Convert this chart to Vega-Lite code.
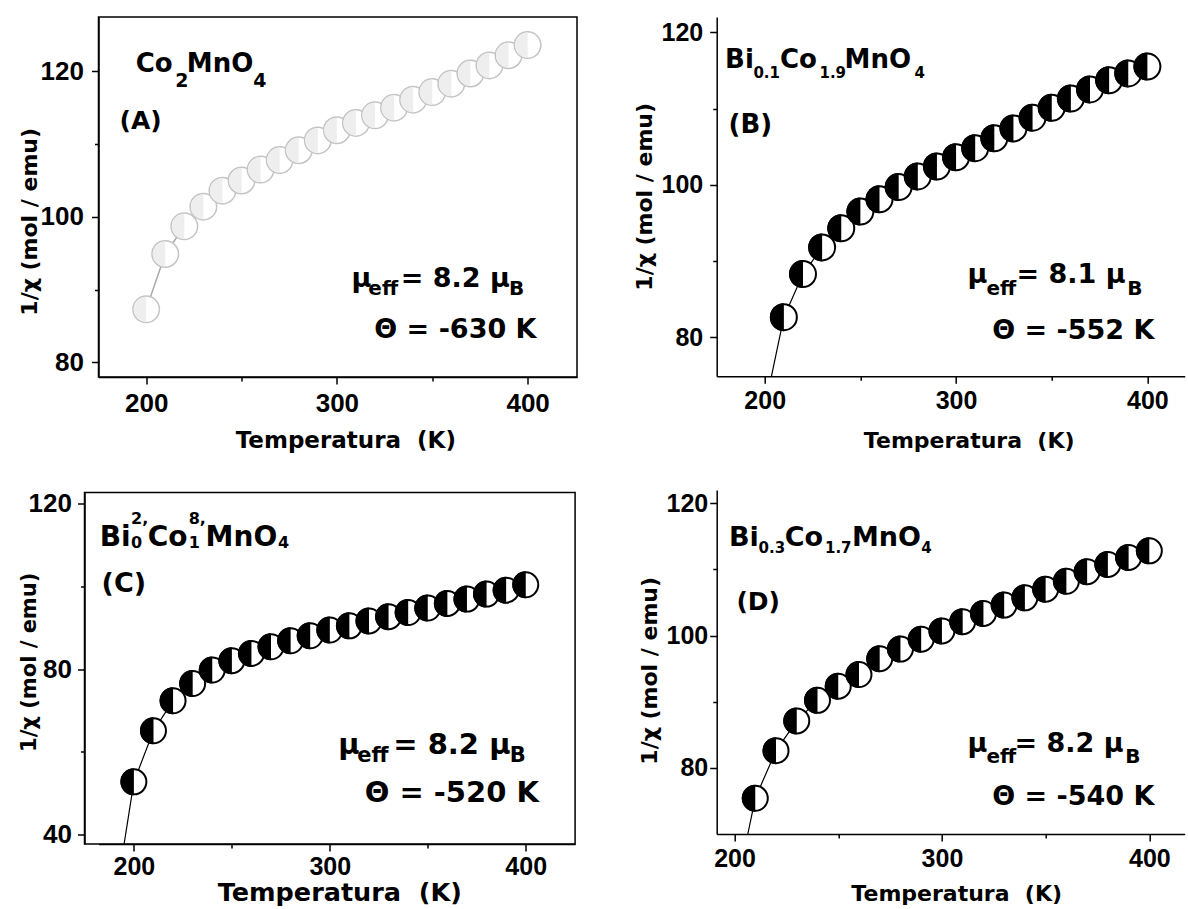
{
  "$schema": "https://vega.github.io/schema/vega-lite/v6.json",
  "background": "white",
  "padding": {"left": 16.5, "top": 16, "right": 0, "bottom": 0},
  "config": {
    "view": {"stroke": null},
    "axis": {"grid": false, "domainColor": "#000", "domainWidth": 1.5, "tickColor": "#000", "tickWidth": 1.5, "labelColor": "#000", "titleColor": "#000", "labelFontWeight": "bold", "titleFontWeight": "bold", "labelFlush": false, "labelOverlap": false, "titleFont": "DejaVu Sans", "labelFont": "Liberation Sans", "titleBaseline": "alphabetic"},
    "text": {"font": "DejaVu Sans", "fontWeight": "bold", "align": "left", "baseline": "alphabetic", "color": "black"}
  },
  "datasets": {
    "A": [
      {"T": 200, "v": 87.3, "k": "pt"}, {"T": 210, "v": 94.9, "k": "pt"}, {"T": 220, "v": 98.7, "k": "pt"}, {"T": 230, "v": 101.4, "k": "pt"}, {"T": 240, "v": 103.6, "k": "pt"}, {"T": 250, "v": 105.0, "k": "pt"}, {"T": 260, "v": 106.5, "k": "pt"}, {"T": 270, "v": 107.8, "k": "pt"}, {"T": 280, "v": 109.15, "k": "pt"}, {"T": 290, "v": 110.5, "k": "pt"}, {"T": 300, "v": 111.9, "k": "pt"}, {"T": 310, "v": 112.9, "k": "pt"}, {"T": 320, "v": 113.95, "k": "pt"}, {"T": 330, "v": 115.0, "k": "pt"}, {"T": 340, "v": 116.1, "k": "pt"}, {"T": 350, "v": 117.15, "k": "pt"}, {"T": 360, "v": 118.3, "k": "pt"}, {"T": 370, "v": 119.7, "k": "pt"}, {"T": 380, "v": 120.8, "k": "pt"}, {"T": 390, "v": 122.2, "k": "pt"}, {"T": 400, "v": 123.6, "k": "pt"}
    ],
    "B": [
      {"T": 203.5, "v": 74.9, "k": "axis"},
      {"T": 210, "v": 82.65, "k": "pt"}, {"T": 220, "v": 88.3, "k": "pt"}, {"T": 230, "v": 91.8, "k": "pt"}, {"T": 240, "v": 94.3, "k": "pt"}, {"T": 250, "v": 96.5, "k": "pt"}, {"T": 260, "v": 98.1, "k": "pt"}, {"T": 270, "v": 99.7, "k": "pt"}, {"T": 280, "v": 101.1, "k": "pt"}, {"T": 290, "v": 102.4, "k": "pt"}, {"T": 300, "v": 103.6, "k": "pt"}, {"T": 310, "v": 104.8, "k": "pt"}, {"T": 320, "v": 106.1, "k": "pt"}, {"T": 330, "v": 107.4, "k": "pt"}, {"T": 340, "v": 108.8, "k": "pt"}, {"T": 350, "v": 110.1, "k": "pt"}, {"T": 360, "v": 111.3, "k": "pt"}, {"T": 370, "v": 112.5, "k": "pt"}, {"T": 380, "v": 113.7, "k": "pt"}, {"T": 390, "v": 114.6, "k": "pt"}, {"T": 400, "v": 115.5, "k": "pt"}
    ],
    "C": [
      {"T": 195.0, "v": 37.8, "k": "axis"},
      {"T": 200, "v": 52.8, "k": "pt"}, {"T": 210, "v": 65.1, "k": "pt"}, {"T": 220, "v": 72.35, "k": "pt"}, {"T": 230, "v": 76.5, "k": "pt"}, {"T": 240, "v": 79.75, "k": "pt"}, {"T": 250, "v": 82.0, "k": "pt"}, {"T": 260, "v": 83.75, "k": "pt"}, {"T": 270, "v": 85.36, "k": "pt"}, {"T": 280, "v": 86.8, "k": "pt"}, {"T": 290, "v": 88.0, "k": "pt"}, {"T": 300, "v": 89.4, "k": "pt"}, {"T": 310, "v": 90.4, "k": "pt"}, {"T": 320, "v": 91.6, "k": "pt"}, {"T": 330, "v": 92.6, "k": "pt"}, {"T": 340, "v": 93.6, "k": "pt"}, {"T": 350, "v": 94.7, "k": "pt"}, {"T": 360, "v": 95.8, "k": "pt"}, {"T": 370, "v": 96.85, "k": "pt"}, {"T": 380, "v": 98.05, "k": "pt"}, {"T": 390, "v": 99.0, "k": "pt"}, {"T": 400, "v": 100.3, "k": "pt"}
    ],
    "D": [
      {"T": 206.4, "v": 70.0, "k": "axis"},
      {"T": 210, "v": 75.4, "k": "pt"}, {"T": 220, "v": 82.6, "k": "pt"}, {"T": 230, "v": 87.1, "k": "pt"}, {"T": 240, "v": 90.2, "k": "pt"}, {"T": 250, "v": 92.35, "k": "pt"}, {"T": 260, "v": 94.1, "k": "pt"}, {"T": 270, "v": 96.5, "k": "pt"}, {"T": 280, "v": 97.95, "k": "pt"}, {"T": 290, "v": 99.45, "k": "pt"}, {"T": 300, "v": 100.7, "k": "pt"}, {"T": 310, "v": 102.1, "k": "pt"}, {"T": 320, "v": 103.35, "k": "pt"}, {"T": 330, "v": 104.6, "k": "pt"}, {"T": 340, "v": 105.7, "k": "pt"}, {"T": 350, "v": 107.0, "k": "pt"}, {"T": 360, "v": 108.2, "k": "pt"}, {"T": 370, "v": 109.65, "k": "pt"}, {"T": 380, "v": 110.75, "k": "pt"}, {"T": 390, "v": 111.8, "k": "pt"}, {"T": 400, "v": 112.8, "k": "pt"}
    ],
    "At": [
      {"T": 194.5, "v": 119.9, "s": "Co", "k": "f"},
      {"T": 215.3, "v": 117.8, "s": "2", "k": "fs"},
      {"T": 221.3, "v": 119.9, "s": "MnO", "k": "f"},
      {"T": 256.2, "v": 117.8, "s": "4", "k": "fs"},
      {"T": 186.0, "v": 112.1, "s": "(A)", "k": "p"},
      {"T": 307.6, "v": 90.4, "s": "μ", "k": "m"},
      {"T": 316.5, "v": 89.2, "s": "eff", "k": "ms"},
      {"T": 333.5, "v": 90.4, "s": "= 8.2 μ", "k": "m"},
      {"T": 390.3, "v": 89.2, "s": "B", "k": "ms"},
      {"T": 319.6, "v": 83.3, "s": "Θ = -630 K", "k": "m"}
    ],
    "Bt": [
      {"T": 179.3, "v": 115.25, "s": "Bi", "k": "f"},
      {"T": 194.1, "v": 113.94, "s": "0.1", "k": "fs"},
      {"T": 208.0, "v": 115.25, "s": "Co", "k": "f"},
      {"T": 228.6, "v": 113.94, "s": "1.9", "k": "fs"},
      {"T": 241.7, "v": 115.25, "s": "MnO", "k": "f"},
      {"T": 278.3, "v": 113.94, "s": "4", "k": "fs"},
      {"T": 181.1, "v": 106.78, "s": "(B)", "k": "p"},
      {"T": 306.0, "v": 87.1, "s": "μ", "k": "m"},
      {"T": 315.9, "v": 85.57, "s": "eff", "k": "ms"},
      {"T": 331.6, "v": 87.1, "s": "= 8.1 μ", "k": "m"},
      {"T": 389.5, "v": 85.57, "s": "B", "k": "ms"},
      {"T": 318.9, "v": 79.78, "s": "Θ = -552 K", "k": "m"}
    ],
    "Ct": [
      {"T": 182.56, "v": 109.7, "s": "Bi", "k": "f"},
      {"T": 198.58, "v": 115.0, "s": "2,", "k": "fs"},
      {"T": 198.58, "v": 109.22, "s": "0", "k": "fs"},
      {"T": 207.1, "v": 109.7, "s": "Co", "k": "f"},
      {"T": 228.0, "v": 115.0, "s": "8,", "k": "fs"},
      {"T": 228.0, "v": 109.22, "s": "1", "k": "fs"},
      {"T": 236.6, "v": 109.7, "s": "MnO", "k": "f"},
      {"T": 273.6, "v": 109.22, "s": "4", "k": "fs"},
      {"T": 183.5, "v": 98.45, "s": "(C)", "k": "p"},
      {"T": 304.3, "v": 59.5, "s": "μ", "k": "m"},
      {"T": 314.0, "v": 57.48, "s": "eff", "k": "ms"},
      {"T": 332.4, "v": 59.5, "s": "= 8.2 μ", "k": "m"},
      {"T": 391.8, "v": 57.48, "s": "B", "k": "ms"},
      {"T": 317.8, "v": 47.84, "s": "Θ = -520 K", "k": "m"}
    ],
    "Dt": [
      {"T": 197.3, "v": 113.59, "s": "Bi", "k": "f"},
      {"T": 211.6, "v": 112.42, "s": "0.3", "k": "fs"},
      {"T": 224.2, "v": 113.59, "s": "Co", "k": "f"},
      {"T": 243.6, "v": 112.42, "s": "1.7", "k": "fs"},
      {"T": 256.6, "v": 113.59, "s": "MnO", "k": "f"},
      {"T": 290.0, "v": 112.42, "s": "4", "k": "fs"},
      {"T": 200.9, "v": 103.85, "s": "(D)", "k": "p"},
      {"T": 312.3, "v": 82.42, "s": "μ", "k": "m"},
      {"T": 321.5, "v": 80.8, "s": "eff", "k": "ms"},
      {"T": 335.0, "v": 82.42, "s": "= 8.2 μ", "k": "m"},
      {"T": 388.4, "v": 80.8, "s": "B", "k": "ms"},
      {"T": 324.2, "v": 74.34, "s": "Θ = -540 K", "k": "m"}
    ],
    "frame": [{"x1": 181.94, "x2": 425.2, "y1": 37.8, "y2": 122.54}]
  },
  "spacing": 55.2,
  "hconcat": [
    {
      "spacing": 36.5,
      "vconcat": [
        {
          "width": 478.5, "height": 360,
          "view": {"stroke": "black", "strokeWidth": 1.5},
          "data": {"name": "A"},
          "encoding": {
            "x": {"field": "T", "type": "quantitative", "scale": {"domain": [175, 425.9], "nice": false, "zero": false},
              "axis": {"values": [200, 250, 300, 350, 400], "labelExpr": "datum.value % 100 === 0 ? datum.label : ''", "tickSize": {"condition": {"test": "datum.value % 100 === 0", "value": 7}, "value": 4}, "labelFontSize": 26, "labelPadding": 6, "title": "Temperatura \u00a0(K)", "titleFontSize": 23, "titleX": 246.8, "titleY": 70}},
            "y": {"field": "v", "type": "quantitative", "scale": {"domain": [78, 127.46], "nice": false, "zero": false},
              "axis": {"values": [80, 90, 100, 110, 120], "labelExpr": "datum.value % 20 === 0 ? datum.label : ''", "tickSize": {"condition": {"test": "datum.value % 20 === 0", "value": 7}, "value": 4}, "labelFontSize": 26, "labelPadding": 8, "title": "1/χ (mol / emu)", "titleFontSize": 22, "titleX": -62.5, "titleY": 204.3}}
          },
          "layer": [
            {"mark": {"type": "line", "color": "#aaaaaa", "strokeWidth": 1.5, "clip": true}},
            {"transform": [{"filter": "datum.k !== 'axis'"}], "mark": {"type": "point", "shape": "circle", "filled": true, "fill": "white", "stroke": "#c4c4c4", "strokeWidth": 1.5, "size": 702, "opacity": 1}},
            {"transform": [{"filter": "datum.k !== 'axis'"}], "mark": {"type": "point", "shape": "M0,-1A1,1,0,0,0,0,1Z", "filled": true, "fill": "#eeeeee", "strokeWidth": 0, "size": 625, "opacity": 1}},
            {"data": {"name": "At"}, "transform": [{"filter": "datum.k === 'f'"}], "mark": {"type": "text", "fontSize": 26}, "encoding": {"text": {"field": "s"}}},
            {"data": {"name": "At"}, "transform": [{"filter": "datum.k === 'fs'"}], "mark": {"type": "text", "fontSize": 19}, "encoding": {"text": {"field": "s"}}},
            {"data": {"name": "At"}, "transform": [{"filter": "datum.k === 'p'"}], "mark": {"type": "text", "fontSize": 25}, "encoding": {"text": {"field": "s"}}},
            {"data": {"name": "At"}, "transform": [{"filter": "datum.k === 'm'"}], "mark": {"type": "text", "fontSize": 27}, "encoding": {"text": {"field": "s"}}},
            {"data": {"name": "At"}, "transform": [{"filter": "datum.k === 'ms'"}], "mark": {"type": "text", "fontSize": 20}, "encoding": {"text": {"field": "s"}}}
          ]
        },
        {
          "width": 476.6, "height": 351.6,
          "data": {"name": "C"},
          "encoding": {
            "x": {"field": "T", "type": "quantitative", "scale": {"domain": [181.94, 425.2], "nice": false, "zero": false},
              "axis": {"values": [200, 250, 300, 350, 400], "labelExpr": "datum.value % 100 === 0 ? datum.label : ''", "tickSize": {"condition": {"test": "datum.value % 100 === 0", "value": 7}, "value": 4}, "labelFontSize": 25, "labelPadding": 3.5, "title": "Temperatura \u00a0(K)", "titleFontSize": 25.5, "titleX": 240.8, "titleY": 56.5}},
            "y": {"field": "v", "type": "quantitative", "scale": {"domain": [37.8, 122.54], "nice": false, "zero": false},
              "axis": {"offset": 14, "values": [40, 60, 80, 100, 120], "labelExpr": "datum.value % 40 === 0 ? datum.label : ''", "tickSize": {"condition": {"test": "datum.value % 40 === 0", "value": 7}, "value": 4}, "labelFontSize": 26, "labelPadding": 6, "title": "1/χ (mol / emu)", "titleFontSize": 21, "titleX": -49, "titleY": 169.3}}
          },
          "layer": [
            {"data": {"name": "frame"}, "mark": {"type": "rect", "fill": "white", "fillOpacity": 0, "stroke": "black", "strokeWidth": 1.5, "xOffset": -14, "x2Offset": 0},
              "encoding": {"x": {"field": "x1", "type": "quantitative"}, "x2": {"field": "x2"}, "y": {"field": "y1", "type": "quantitative"}, "y2": {"field": "y2"}}},
            {"mark": {"type": "line", "color": "black", "strokeWidth": 1.2, "clip": true}},
            {"transform": [{"filter": "datum.k !== 'axis'"}], "mark": {"type": "point", "shape": "circle", "filled": true, "fill": "white", "stroke": "black", "strokeWidth": 2, "size": 625, "opacity": 1}},
            {"transform": [{"filter": "datum.k !== 'axis'"}], "mark": {"type": "point", "shape": "M0,-1A1,1,0,0,0,0,1Z", "filled": true, "fill": "black", "strokeWidth": 0, "size": 729, "opacity": 1}},
            {"data": {"name": "Ct"}, "transform": [{"filter": "datum.k === 'f'"}], "mark": {"type": "text", "fontSize": 28}, "encoding": {"text": {"field": "s"}}},
            {"data": {"name": "Ct"}, "transform": [{"filter": "datum.k === 'fs'"}], "mark": {"type": "text", "fontSize": 16}, "encoding": {"text": {"field": "s"}}},
            {"data": {"name": "Ct"}, "transform": [{"filter": "datum.k === 'p'"}], "mark": {"type": "text", "fontSize": 27}, "encoding": {"text": {"field": "s"}}},
            {"data": {"name": "Ct"}, "transform": [{"filter": "datum.k === 'm'"}], "mark": {"type": "text", "fontSize": 29}, "encoding": {"text": {"field": "s"}}},
            {"data": {"name": "Ct"}, "transform": [{"filter": "datum.k === 'ms'"}], "mark": {"type": "text", "fontSize": 21}, "encoding": {"text": {"field": "s"}}}
          ]
        }
      ]
    },
    {
      "spacing": 39,
      "vconcat": [
        {
          "width": 468, "height": 359.3,
          "data": {"name": "B"},
          "encoding": {
            "x": {"field": "T", "type": "quantitative", "scale": {"domain": [174.9, 419.5], "nice": false, "zero": false},
              "axis": {"values": [200, 250, 300, 350, 400], "labelExpr": "datum.value % 100 === 0 ? datum.label : ''", "tickSize": {"condition": {"test": "datum.value % 100 === 0", "value": 7}, "value": 4}, "labelFontSize": 25, "labelPadding": 5, "title": "Temperatura \u00a0(K)", "titleFontSize": 22, "titleX": 252, "titleY": 70.7}},
            "y": {"field": "v", "type": "quantitative", "scale": {"domain": [74.9, 122], "nice": false, "zero": false},
              "axis": {"values": [80, 90, 100, 110, 120], "labelExpr": "datum.value % 20 === 0 ? datum.label : ''", "tickSize": {"condition": {"test": "datum.value % 20 === 0", "value": 7}, "value": 4}, "labelFontSize": 25, "labelPadding": 7, "title": "1/χ (mol / emu)", "titleFontSize": 22, "titleX": -65, "titleY": 179.3}}
          },
          "layer": [
            {"data": {"values": [{}]}, "mark": {"type": "rule", "color": "black", "strokeWidth": 1.5}, "encoding": {"x": {"datum": 174.9}, "x2": {"datum": 419.5}, "y": {"datum": 122}}},
            {"mark": {"type": "line", "color": "black", "strokeWidth": 1.2, "clip": true}},
            {"transform": [{"filter": "datum.k !== 'axis'"}], "mark": {"type": "point", "shape": "circle", "filled": true, "fill": "white", "stroke": "black", "strokeWidth": 2, "size": 676, "opacity": 1}},
            {"transform": [{"filter": "datum.k !== 'axis'"}], "mark": {"type": "point", "shape": "M0,-1A1,1,0,0,0,0,1Z", "filled": true, "fill": "black", "strokeWidth": 0, "size": 784, "opacity": 1}},
            {"data": {"name": "Bt"}, "transform": [{"filter": "datum.k === 'f'"}], "mark": {"type": "text", "fontSize": 26}, "encoding": {"text": {"field": "s"}}},
            {"data": {"name": "Bt"}, "transform": [{"filter": "datum.k === 'fs'"}], "mark": {"type": "text", "fontSize": 15}, "encoding": {"text": {"field": "s"}}},
            {"data": {"name": "Bt"}, "transform": [{"filter": "datum.k === 'p'"}], "mark": {"type": "text", "fontSize": 26}, "encoding": {"text": {"field": "s"}}},
            {"data": {"name": "Bt"}, "transform": [{"filter": "datum.k === 'm'"}], "mark": {"type": "text", "fontSize": 27}, "encoding": {"text": {"field": "s"}}},
            {"data": {"name": "Bt"}, "transform": [{"filter": "datum.k === 'ms'"}], "mark": {"type": "text", "fontSize": 20}, "encoding": {"text": {"field": "s"}}}
          ]
        },
        {
          "width": 468, "height": 344,
          "data": {"name": "D"},
          "encoding": {
            "x": {"field": "T", "type": "quantitative", "scale": {"domain": [191.4, 417.05], "nice": false, "zero": false},
              "axis": {"values": [200, 250, 300, 350, 400], "labelExpr": "datum.value % 100 === 0 ? datum.label : ''", "tickSize": {"condition": {"test": "datum.value % 100 === 0", "value": 7}, "value": 4}, "labelFontSize": 25, "labelPadding": 5.5, "title": "Temperatura \u00a0(K)", "titleFontSize": 22, "titleX": 239.5, "titleY": 66}},
            "y": {"field": "v", "type": "quantitative", "scale": {"domain": [70, 122], "nice": false, "zero": false},
              "axis": {"values": [80, 90, 100, 110, 120], "labelExpr": "datum.value % 20 === 0 ? datum.label : ''", "tickSize": {"condition": {"test": "datum.value % 20 === 0", "value": 7}, "value": 4}, "labelFontSize": 25, "labelPadding": 2, "title": "1/χ (mol / emu)", "titleFontSize": 22, "titleX": -60, "titleY": 180.3}}
          },
          "layer": [
            {"data": {"values": [{}]}, "mark": {"type": "rule", "color": "black", "strokeWidth": 1.5}, "encoding": {"x": {"datum": 191.4}, "x2": {"datum": 417.05}, "y": {"datum": 122}}},
            {"mark": {"type": "line", "color": "black", "strokeWidth": 1.2, "clip": true}},
            {"transform": [{"filter": "datum.k !== 'axis'"}], "mark": {"type": "point", "shape": "circle", "filled": true, "fill": "white", "stroke": "black", "strokeWidth": 2, "size": 625, "opacity": 1}},
            {"transform": [{"filter": "datum.k !== 'axis'"}], "mark": {"type": "point", "shape": "M0,-1A1,1,0,0,0,0,1Z", "filled": true, "fill": "black", "strokeWidth": 0, "size": 729, "opacity": 1}},
            {"data": {"name": "Dt"}, "transform": [{"filter": "datum.k === 'f'"}], "mark": {"type": "text", "fontSize": 27}, "encoding": {"text": {"field": "s"}}},
            {"data": {"name": "Dt"}, "transform": [{"filter": "datum.k === 'fs'"}], "mark": {"type": "text", "fontSize": 15}, "encoding": {"text": {"field": "s"}}},
            {"data": {"name": "Dt"}, "transform": [{"filter": "datum.k === 'p'"}], "mark": {"type": "text", "fontSize": 25}, "encoding": {"text": {"field": "s"}}},
            {"data": {"name": "Dt"}, "transform": [{"filter": "datum.k === 'm'"}], "mark": {"type": "text", "fontSize": 27}, "encoding": {"text": {"field": "s"}}},
            {"data": {"name": "Dt"}, "transform": [{"filter": "datum.k === 'ms'"}], "mark": {"type": "text", "fontSize": 20}, "encoding": {"text": {"field": "s"}}}
          ]
        }
      ]
    }
  ]
}
